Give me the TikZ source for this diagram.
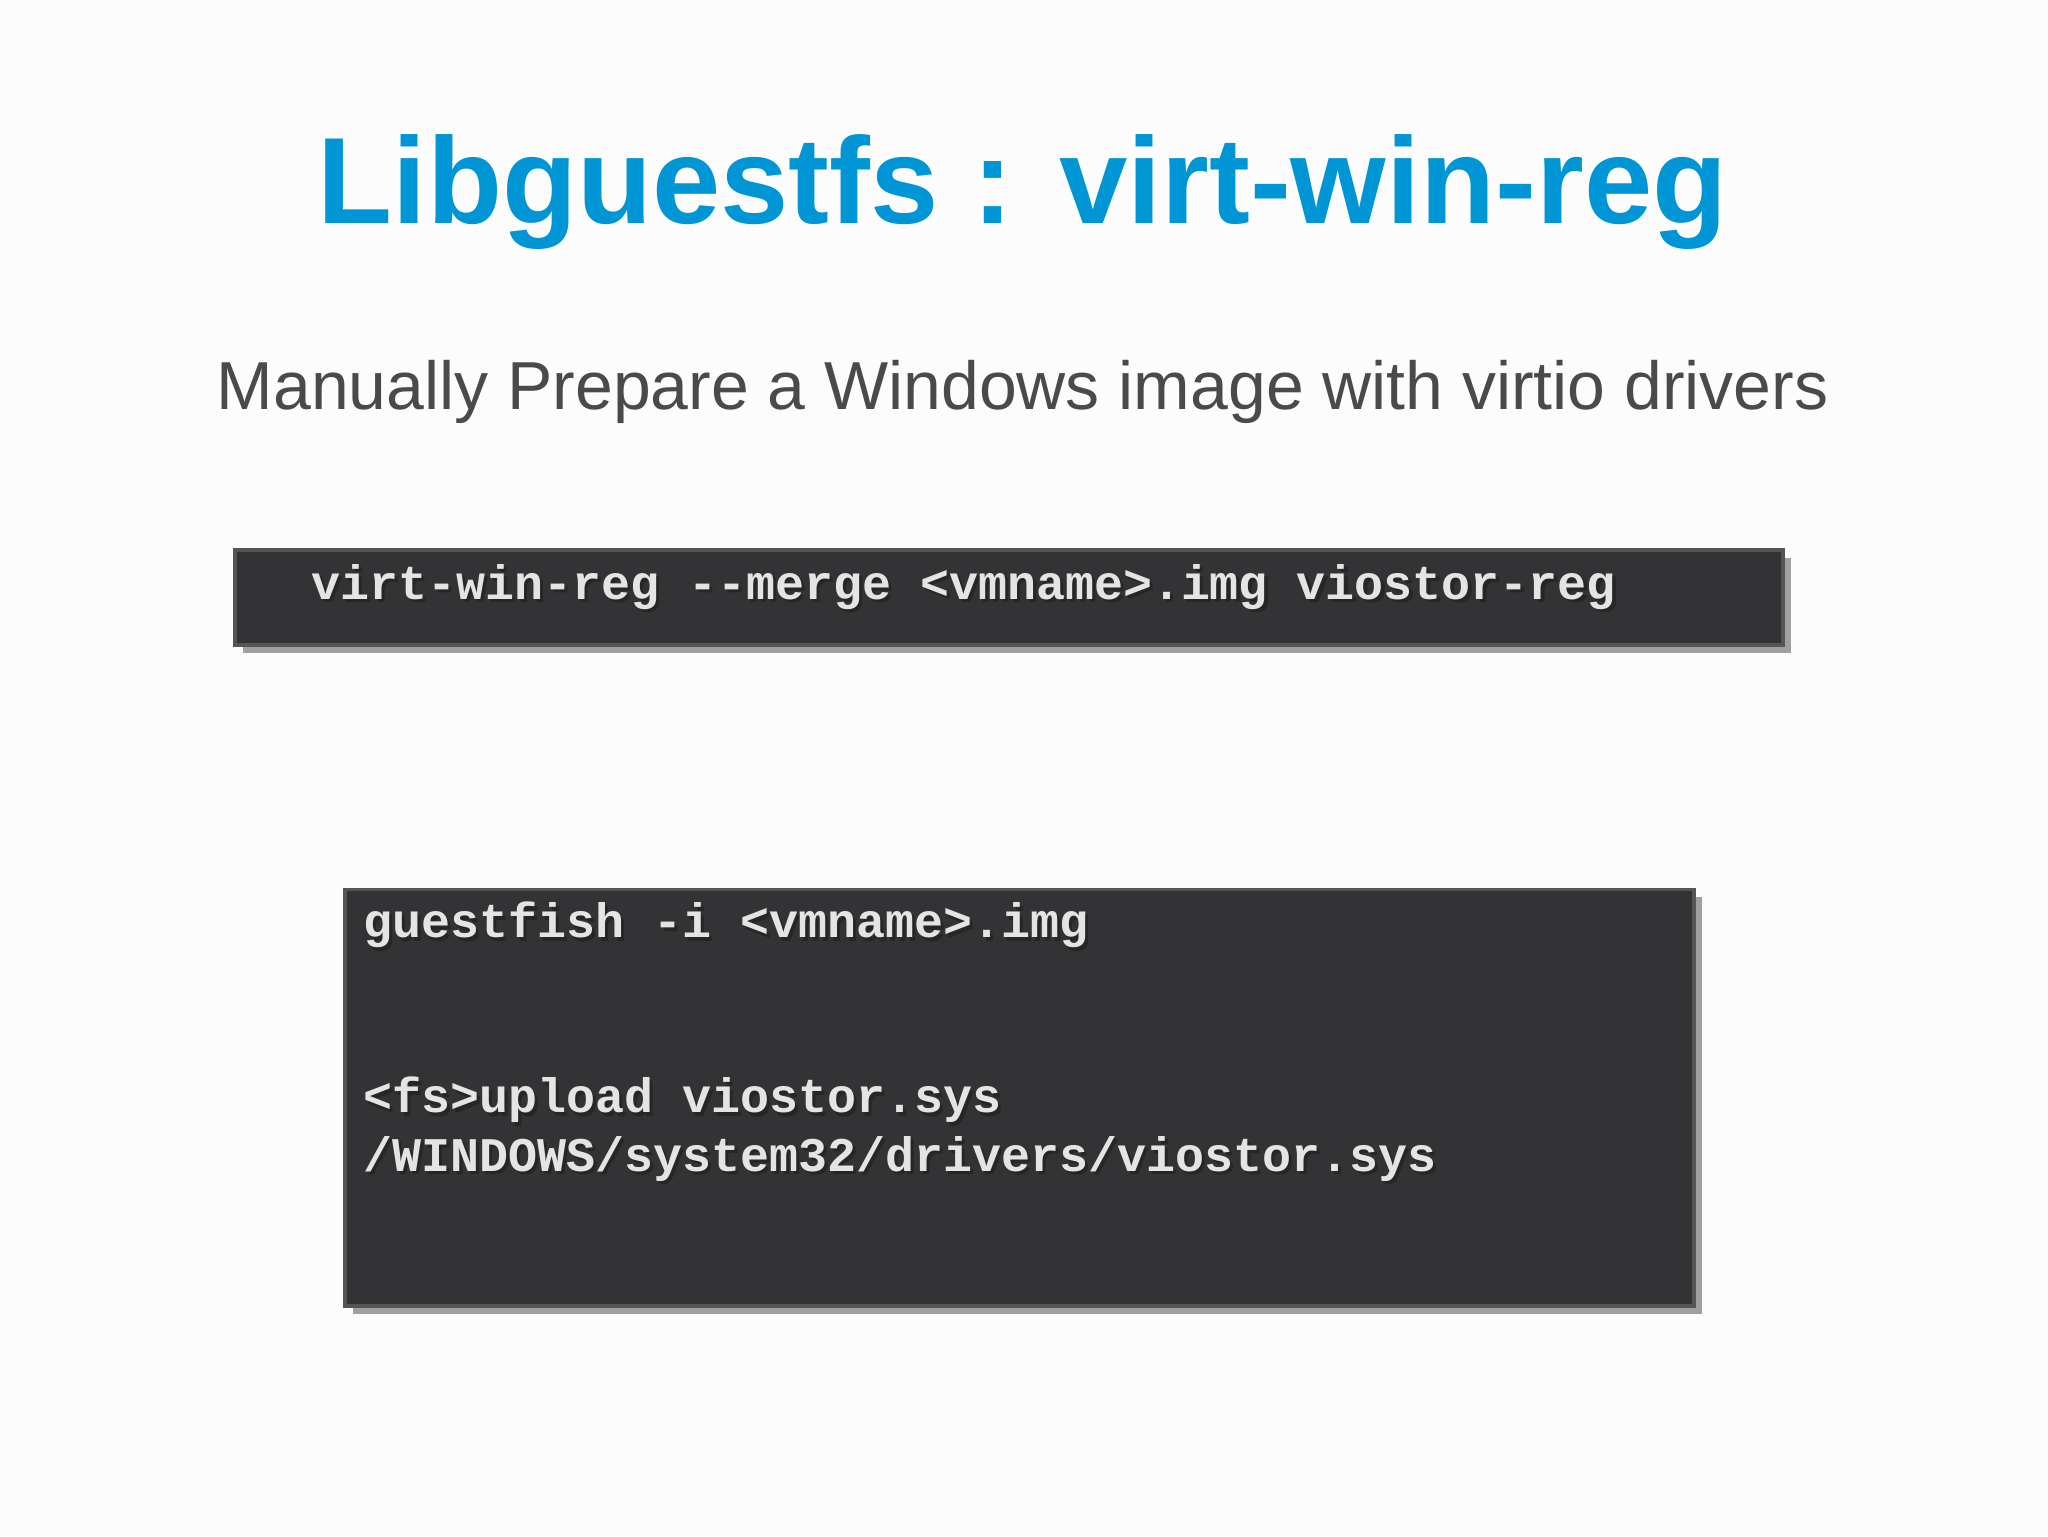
\documentclass[tikz,border=0pt]{standalone}
\usepackage{fontspec}
\setmainfont{Liberation Sans}
\newfontfamily\monob{Liberation Mono}
\definecolor{titleblue}{RGB}{0,150,214}
\definecolor{subgray}{RGB}{74,74,77}
\definecolor{boxfill}{RGB}{51,50,52}
\definecolor{boxedge}{RGB}{85,85,85}
\definecolor{shadowgray}{RGB}{160,160,160}
\definecolor{codetext}{RGB}{228,228,228}
\tikzset{
  codebox/.style={fill=boxfill, draw=boxedge, line width=3pt},
  shadowbox/.style={fill=shadowgray},
  code/.style={font=\monob\bfseries\fontsize{37}{45}\selectfont, text=codetext, inner sep=0pt, anchor=base west},
  codesh/.style={font=\monob\bfseries\fontsize{37}{45}\selectfont, text=black!85, inner sep=0pt, anchor=base west},
}
\begin{document}
\begin{tikzpicture}[x=1pt,y=-1pt]
\useasboundingbox (0,0) rectangle (1568,1176);
\fill[white!98!gray] (0,0) rectangle (1568,1176);
\node (title) at (783,147) {\fontsize{94}{110}\selectfont\bfseries\color{titleblue}Libguestfs : virt-win-reg};
\node (sub) at (783,300) {\fontsize{52}{60}\selectfont\color{subgray}Manually Prepare a Windows image with virtio drivers};
% box 1
\fill[shadowgray] (186,427) rectangle (1371,500);
\draw[codebox] (180,421) rectangle (1365,494);
\node[codesh] (c1s) at (240.5,461.5) {virt-win-reg --merge <vmname>.img viostor-reg};
\node[code] (c1) at (238,459) {virt-win-reg --merge <vmname>.img viostor-reg};
% box 2
\fill[shadowgray] (270,687) rectangle (1303,1006);
\draw[codebox] (264,681) rectangle (1297,1000);
\node[codesh] (c2s) at (280.5,720.5) {guestfish -i <vmname>.img};
\node[code] (c2) at (278,718) {guestfish -i <vmname>.img};
\node[codesh] (c3s) at (280.5,854.5) {<fs>upload viostor.sys};
\node[code] (c3) at (278,852) {<fs>upload viostor.sys};
\node[codesh] (c4s) at (280.5,899.5) {/WINDOWS/system32/drivers/viostor.sys};
\node[code] (c4) at (278,897) {/WINDOWS/system32/drivers/viostor.sys};
\end{tikzpicture}
\end{document}
